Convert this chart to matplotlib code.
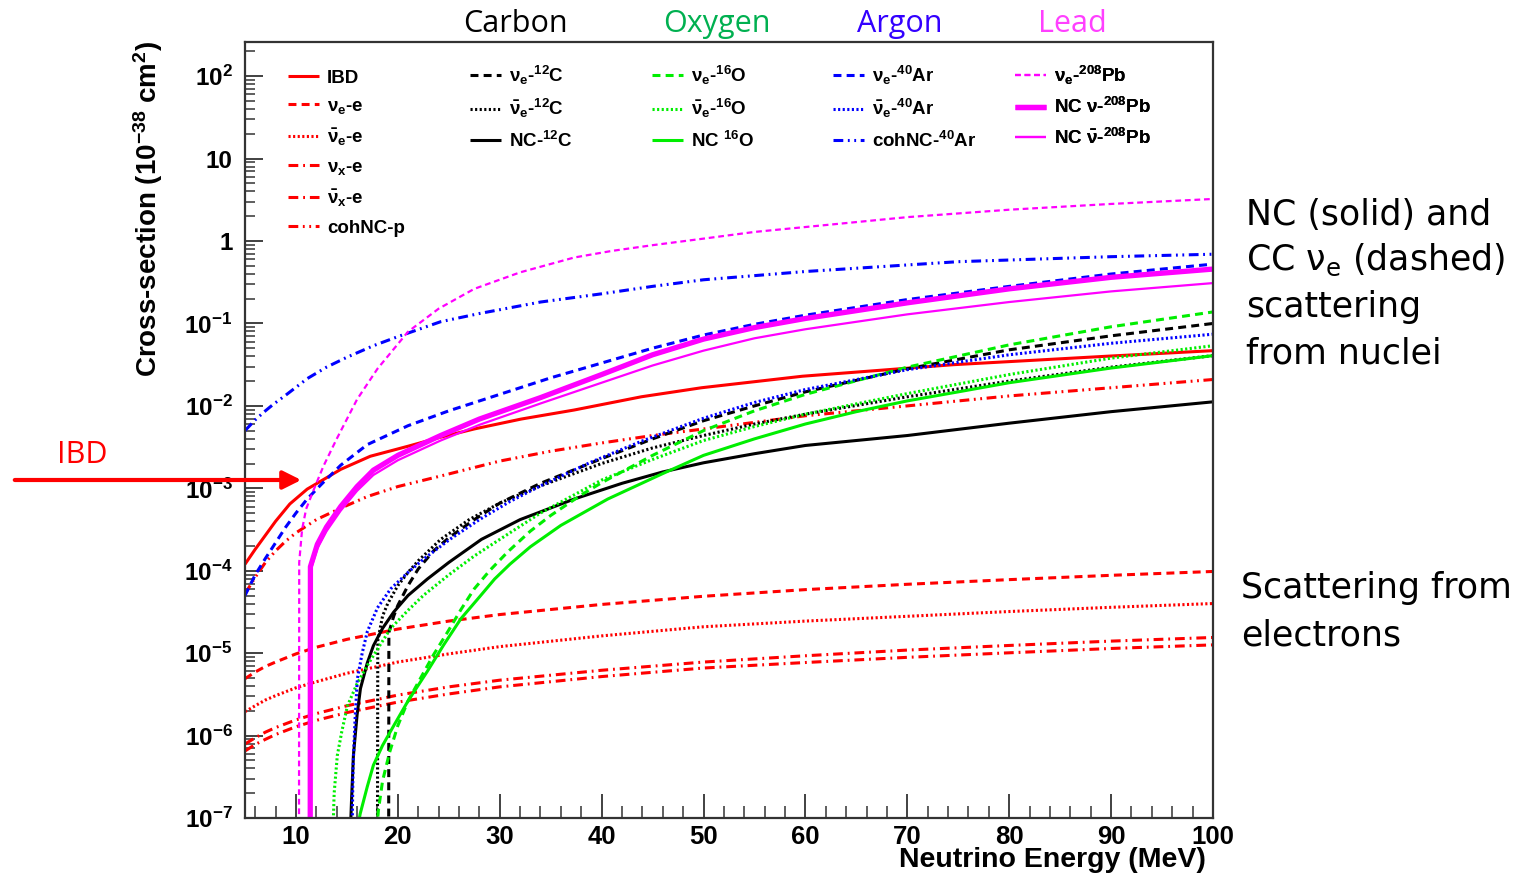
import numpy as np
import matplotlib
matplotlib.use('Agg')
import matplotlib.pyplot as plt
from matplotlib.patches import FancyArrowPatch
from matplotlib.ticker import FixedLocator, FixedFormatter, MultipleLocator, NullFormatter, LogLocator

plt.rcParams['mathtext.fontset'] = 'custom'
plt.rcParams['mathtext.rm'] = 'Liberation Sans:bold'
plt.rcParams['mathtext.it'] = 'Liberation Sans:bold'
plt.rcParams['mathtext.bf'] = 'Liberation Sans:bold'
plt.rcParams['mathtext.sf'] = 'Liberation Sans:bold'
plt.rcParams['mathtext.default'] = 'regular'

# ---------------- data (cross-section in 1e-38 cm^2 vs neutrino energy in MeV) -------------
ibd_E = [5, 6, 7, 8, 9.4, 11.1, 12.9, 14.4, 17.3, 21, 24.2, 27.5, 32.1, 37.3, 43.9, 49.8,
         59.7, 74.5, 89.2, 100]
ibd_s = [1.20e-4, 1.82e-4, 2.69e-4, 3.98e-4, 6.46e-4, 9.77e-4, 1.32e-3, 1.70e-3, 2.45e-3,
         3.24e-3, 4.17e-3, 5.25e-3, 6.92e-3, 8.91e-3, 1.29e-2, 1.66e-2, 2.29e-2, 3.16e-2,
         3.98e-2, 4.68e-2]

e_E = [5, 6, 7, 8, 10, 12, 15, 20, 25, 30, 40, 50, 60, 70, 80, 90, 100]
nue_e_s = [4.9e-6, 5.9e-6, 6.9e-6, 7.8e-6, 9.8e-6, 1.18e-5, 1.47e-5, 1.96e-5, 2.45e-5,
           2.94e-5, 3.9e-5, 4.9e-5, 5.9e-5, 6.85e-5, 7.8e-5, 8.8e-5, 9.8e-5]
nuebar_e_s = [1.95e-6, 2.3e-6, 2.7e-6, 3.05e-6, 3.8e-6, 4.5e-6, 5.7e-6, 7.8e-6, 9.8e-6,
              1.2e-5, 1.62e-5, 2.09e-5, 2.45e-5, 2.8e-5, 3.2e-5, 3.6e-5, 4.0e-5]
numux_e_s = [7.9e-7, 9.4e-7, 1.1e-6, 1.25e-6, 1.55e-6, 1.85e-6, 2.3e-6, 3.1e-6, 3.9e-6,
             4.7e-6, 6.2e-6, 7.8e-6, 9.3e-6, 1.09e-5, 1.24e-5, 1.4e-5, 1.55e-5]
numuxbar_e_s = [6.5e-7, 7.8e-7, 9.0e-7, 1.03e-6, 1.28e-6, 1.53e-6, 1.9e-6, 2.55e-6, 3.2e-6,
                3.9e-6, 5.2e-6, 6.6e-6, 7.7e-6, 8.9e-6, 1.01e-5, 1.14e-5, 1.26e-5]

cohp_E = [5, 6, 7, 8, 9, 10, 12, 14.4, 17, 20, 24.2, 30, 35, 40, 45, 50, 55, 60, 70, 80, 90, 100]
cohp_s = [5.25e-5, 8.32e-5, 1.26e-4, 1.74e-4, 2.29e-4, 2.88e-4, 4.17e-4, 5.75e-4, 7.94e-4,
          1.05e-3, 1.41e-3, 2.14e-3, 2.82e-3, 3.55e-3, 4.37e-3, 5.25e-3, 6.31e-3, 7.59e-3,
          1.0e-2, 1.32e-2, 1.66e-2, 2.09e-2]

# Carbon
nue_C_E = [19.1, 19.12, 19.6, 20, 21, 22, 23.5, 25, 27.5, 30, 34, 40, 45, 50, 55, 60, 70, 80,
           90, 100]
nue_C_s = [5.0e-8, 1.78e-5, 2.82e-5, 3.80e-5, 6.61e-5, 1.05e-4, 1.74e-4, 2.51e-4, 4.17e-4,
           6.61e-4, 1.15e-3, 2.29e-3, 3.98e-3, 6.61e-3, 1.0e-2, 1.48e-2, 2.82e-2, 4.79e-2,
           7.08e-2, 1.0e-1]
nuebar_C_E = [18.0, 18.03, 18.5, 19, 20, 21, 22, 24.2, 27, 30, 34, 40, 45, 50, 55, 60, 70, 80,
              90, 100]
nuebar_C_s = [5.0e-8, 1.41e-5, 2.82e-5, 3.98e-5, 6.61e-5, 9.55e-5, 1.32e-4, 2.40e-4, 4.17e-4,
              6.61e-4, 1.07e-3, 2.0e-3, 3.09e-3, 4.37e-3, 6.03e-3, 7.94e-3, 1.29e-2, 2.0e-2,
              2.95e-2, 4.07e-2]
nc_C_E = [15.3, 15.45, 15.64, 16.0, 16.33, 17, 17.6, 18.5, 19.6, 21, 22.9, 25, 28.2, 32, 37.3,
          42, 46, 50, 55, 60, 70, 80, 90, 100]
nc_C_s = [5.0e-8, 1.58e-7, 5.75e-7, 1.78e-6, 3.72e-6, 7.59e-6, 1.23e-5, 2.0e-5, 3.16e-5,
          5.01e-5, 7.94e-5, 1.26e-4, 2.40e-4, 4.17e-4, 7.41e-4, 1.15e-3, 1.58e-3, 2.04e-3,
          2.63e-3, 3.31e-3, 4.37e-3, 6.17e-3, 8.51e-3, 1.12e-2]

# Oxygen
nue_O_E = [17.8, 18.1, 18.5, 19.2, 20, 21, 22.2, 23.5, 24.9, 26.2, 27.5, 29, 30.8, 33, 35, 38,
           40, 45, 50, 55, 60, 70, 80, 90, 100]
nue_O_s = [5.0e-8, 1.26e-7, 2.82e-7, 6.31e-7, 1.32e-6, 2.63e-6, 4.90e-6, 9.55e-6, 1.82e-5,
           3.39e-5, 6.03e-5, 1.0e-4, 1.70e-4, 3.02e-4, 4.68e-4, 8.32e-4, 1.17e-3, 2.51e-3,
           5.01e-3, 8.71e-3, 1.38e-2, 2.95e-2, 5.50e-2, 9.12e-2, 1.38e-1]
nuebar_O_E = [13.6, 13.75, 14.06, 14.5, 15.05, 16, 17, 18, 19.3, 21, 22.5, 25, 27.5, 30, 34, 40,
              45, 50, 55, 60, 70, 80, 90, 100]
nuebar_O_s = [5.0e-8, 2.0e-7, 5.75e-7, 1.12e-6, 2.29e-6, 4.27e-6, 7.08e-6, 1.12e-5, 2.0e-5,
              3.31e-5, 5.01e-5, 8.91e-5, 1.51e-4, 2.40e-4, 5.01e-4, 1.26e-3, 2.24e-3, 3.80e-3,
              5.62e-3, 7.94e-3, 1.41e-2, 2.40e-2, 3.80e-2, 5.37e-2]
nc_O_E = [15.8, 16.3, 17, 17.6, 18.5, 19.6, 21, 22.9, 24.5, 26.2, 28, 29.5, 31, 33, 36, 40.6,
          46, 50, 55, 60, 65, 70, 75, 80, 90, 100]
nc_O_s = [5.0e-8, 1.12e-7, 2.40e-7, 4.37e-7, 7.59e-7, 1.32e-6, 2.63e-6, 6.03e-6, 1.26e-5,
          2.63e-5, 4.79e-5, 7.94e-5, 1.20e-4, 1.95e-4, 3.55e-4, 7.41e-4, 1.51e-3, 2.51e-3,
          3.98e-3, 6.03e-3, 8.51e-3, 1.15e-2, 1.48e-2, 1.91e-2, 2.88e-2, 4.07e-2]

# Argon
nue_Ar_E = [5, 6, 7, 7.8, 9, 10, 11.1, 12.5, 14.4, 17, 21, 25, 30, 35, 40, 45, 50, 55, 60, 70,
            80, 90, 100]
nue_Ar_s = [5.01e-5, 8.91e-5, 1.41e-4, 2.0e-4, 3.39e-4, 5.01e-4, 7.41e-4, 1.12e-3, 1.91e-3,
            3.39e-3, 5.75e-3, 8.71e-3, 1.38e-2, 2.19e-2, 3.31e-2, 5.01e-2, 7.24e-2, 9.77e-2,
            1.26e-1, 1.95e-1, 2.82e-1, 3.98e-1, 5.25e-1]
nuebar_Ar_E = [15.5, 15.6, 15.8, 16.03, 16.5, 17, 18, 19.3, 21, 22.6, 25.2, 28, 31, 34, 39,
               43.9, 50, 55, 60, 70, 80, 90, 100]
nuebar_Ar_s = [5.0e-8, 3.98e-7, 1.58e-6, 4.90e-6, 1.0e-5, 1.82e-5, 3.55e-5, 6.03e-5, 9.55e-5,
               1.41e-4, 2.45e-4, 4.17e-4, 6.92e-4, 1.07e-3, 2.09e-3, 3.72e-3, 7.08e-3, 1.10e-2,
               1.58e-2, 2.75e-2, 4.17e-2, 5.75e-2, 7.41e-2]
coh_Ar_E = [5, 6, 7, 7.8, 9, 11.1, 13, 15, 17.6, 20, 24.2, 28, 34, 40, 45, 50, 60, 75, 90, 100]
coh_Ar_s = [5.01e-3, 6.76e-3, 8.71e-3, 1.05e-2, 1.35e-2, 2.14e-2, 2.95e-2, 3.89e-2, 5.37e-2,
            6.92e-2, 1.05e-1, 1.32e-1, 1.82e-1, 2.29e-1, 2.82e-1, 3.39e-1, 4.27e-1, 5.62e-1,
            6.46e-1, 6.92e-1]

# Lead
nue_Pb_E = [10.3, 10.32, 10.6, 11, 11.8, 12.7, 14, 16, 18, 21, 24, 27.5, 32, 37.3, 41, 45, 50,
            55, 60, 70, 80, 90, 100]
nue_Pb_s = [5.0e-8, 1.26e-4, 3.16e-4, 5.62e-4, 1.0e-3, 1.86e-3, 3.98e-3, 1.20e-2, 2.82e-2,
            7.94e-2, 1.51e-1, 2.63e-1, 4.17e-1, 6.31e-1, 7.59e-1, 8.91e-1, 1.07, 1.29, 1.48,
            1.95, 2.40, 2.82, 3.24]
ncnu_Pb_E = [11.4, 11.42, 12.1, 13, 14.4, 16, 17.6, 20, 24.2, 28, 34, 40, 45, 50, 55, 60, 70,
             80, 90, 100]
ncnu_Pb_s = [5.0e-8, 1.12e-4, 2.09e-4, 3.39e-4, 6.03e-4, 1.05e-3, 1.66e-3, 2.51e-3, 4.37e-3,
             6.92e-3, 1.26e-2, 2.40e-2, 4.17e-2, 6.46e-2, 8.91e-2, 1.15e-1, 1.78e-1, 2.63e-1,
             3.63e-1, 4.57e-1]
ncnubar_Pb_E = [11.4, 11.42, 12.1, 13, 14.4, 16, 17.6, 20, 24.2, 28, 34, 40, 45, 50, 55, 60, 70,
                80, 90, 100]
ncnubar_Pb_s = [5.0e-8, 1.0e-4, 1.86e-4, 3.02e-4, 5.37e-4, 9.33e-4, 1.45e-3, 2.19e-3, 3.80e-3,
                5.89e-3, 1.07e-2, 1.91e-2, 3.09e-2, 4.68e-2, 6.61e-2, 8.51e-2, 1.29e-1, 1.82e-1,
                2.45e-1, 3.09e-1]

ytick_vals = [1e-7, 1e-6, 1e-5, 1e-4, 1e-3, 1e-2, 1e-1, 1, 10, 100]
ytick_labels = ['10$^{-7}$', '10$^{-6}$', '10$^{-5}$', '10$^{-4}$', '10$^{-3}$',
                '10$^{-2}$', '10$^{-1}$', '1', '10', '10$^{2}$']
xtick_vals = [10, 20, 30, 40, 50, 60, 70, 80, 90, 100]

element_names = ['Carbon', 'Oxygen', 'Argon', 'Lead']
element_colors = ['#000000', '#00B050', '#3300FF', '#FF40FF']

# ---------------- styles ----------------
RED, BLK, GRN, BLU, MAG = '#FF0000', '#000000', '#00EE00', '#0000FF', '#FF00FF'
DASH = (0, (2.6, 1.7))
DOT = (0, (0.7, 0.8))
DDOT = (0, (3.2, 1.6, 0.6, 1.6))
DDDOT = (0, (3.2, 1.5, 0.6, 1.5, 0.6, 1.5))
LW = 2.2

fig = plt.figure(figsize=(15.35, 8.76), dpi=100)
ax = fig.add_axes([245/1535, 1-818/876, (1213-245)/1535, (818-42)/876])
ax.set_yscale('log')
ax.set_xlim(5, 100)
ax.set_ylim(1e-7, 2.6e2)

curves = [
    (ibd_E, ibd_s, RED, '-', LW, 'IBD'),
    (e_E, nue_e_s, RED, DASH, LW, r'$\nu_{e}$-e'),
    (e_E, nuebar_e_s, RED, DOT, LW, r'$\bar{\nu}_{e}$-e'),
    (e_E, numux_e_s, RED, DDOT, LW, r'$\nu_{x}$-e'),
    (e_E, numuxbar_e_s, RED, DDOT, LW, r'$\bar{\nu}_{x}$-e'),
    (cohp_E, cohp_s, RED, DDDOT, LW, 'cohNC-p'),
    (nue_C_E, nue_C_s, BLK, DASH, LW, r'$\nu_{e}$-$^{12}$C'),
    (nuebar_C_E, nuebar_C_s, BLK, DOT, LW, r'$\bar{\nu}_{e}$-$^{12}$C'),
    (nc_C_E, nc_C_s, BLK, '-', LW, r'NC-$^{12}$C'),
    (nue_O_E, nue_O_s, GRN, DASH, LW, r'$\nu_{e}$-$^{16}$O'),
    (nuebar_O_E, nuebar_O_s, GRN, DOT, LW, r'$\bar{\nu}_{e}$-$^{16}$O'),
    (nc_O_E, nc_O_s, GRN, '-', LW, r'NC $^{16}$O'),
    (nue_Ar_E, nue_Ar_s, BLU, DASH, LW, r'$\nu_{e}$-$^{40}$Ar'),
    (nuebar_Ar_E, nuebar_Ar_s, BLU, DOT, LW, r'$\bar{\nu}_{e}$-$^{40}$Ar'),
    (coh_Ar_E, coh_Ar_s, BLU, DDDOT, LW, r'cohNC-$^{40}$Ar'),
    (nue_Pb_E, nue_Pb_s, MAG, DASH, 1.6, r'$\nu_{e}$-$^{208}$Pb'),
    (ncnu_Pb_E, ncnu_Pb_s, MAG, '-', 3.8, r'NC $\nu$-$^{208}$Pb'),
    (ncnubar_Pb_E, ncnubar_Pb_s, MAG, '-', 1.6, r'NC $\bar{\nu}$-$^{208}$Pb'),
]

handles = []
for E, s, c, ls, lw, lab in curves:
    h, = ax.plot(E, s, color=c, ls=ls, lw=lw, label=lab, solid_capstyle='butt',
                 dash_capstyle='butt', solid_joinstyle='round')
    handles.append(h)

# legends in 5 columns
groups = [(0, 6, 0.044, 0.964, 0.58), (6, 9, 0.232, 0.972, 0.56), (9, 12, 0.42, 0.972, 0.56),
          (12, 15, 0.607, 0.972, 0.56), (15, 18, 0.795, 0.972, 0.56)]
legfont = {'family': 'Liberation Sans', 'weight': 'bold', 'size': 13.5}
for i0, i1, lx, ly, sp in groups:
    leg = ax.legend(handles=handles[i0:i1], loc='upper left', bbox_to_anchor=(lx, ly),
                    frameon=False, prop=legfont, handlelength=1.7, handletextpad=0.4,
                    labelspacing=sp, borderpad=0, borderaxespad=0)
    ax.add_artist(leg)

# axes styling (ROOT-like)
for sp_ in ax.spines.values():
    sp_.set_linewidth(1.6)
    sp_.set_color('#333333')
ax.yaxis.set_major_locator(FixedLocator(ytick_vals))
ax.yaxis.set_major_formatter(FixedFormatter(ytick_labels))
ax.yaxis.set_minor_locator(LogLocator(base=10, subs=np.arange(2, 10), numticks=30))
ax.yaxis.set_minor_formatter(NullFormatter())
ax.xaxis.set_major_locator(FixedLocator(xtick_vals))
ax.xaxis.set_major_formatter(FixedFormatter([str(v) for v in xtick_vals]))
ax.xaxis.set_minor_locator(MultipleLocator(2))
ax.tick_params(which='major', direction='in', length=17, width=1.3, color='#333333')
ax.tick_params(which='minor', direction='in', length=8.5, width=1.1, color='#333333')
ax.tick_params(axis='y', which='major', length=13, labelsize=17.5, pad=9)
ax.tick_params(axis='y', which='minor', length=7)
ax.tick_params(axis='x', which='major', labelsize=18.5, pad=5)
for t in ax.get_xticklabels() + ax.get_yticklabels():
    t.set_fontfamily('Liberation Sans')
    t.set_fontweight('bold')

ax.set_ylabel(r'Cross-section (10$^{-38}$ cm$^{2}$)', fontsize=20, fontweight='bold',
              family='Liberation Sans')
ax.yaxis.set_label_coords(-0.083, 0.785)
ax.set_xlabel('Neutrino Energy (MeV)', fontsize=20.5, fontweight='bold',
              family='Liberation Sans')
ax.xaxis.set_label_coords(0.993, -0.037)
ax.xaxis.label.set_horizontalalignment('right')
ax.xaxis.label.set_verticalalignment('top')

# element titles above the axes
elem_x = [515, 717, 900, 1072]
for name, col, xp in zip(element_names, element_colors, elem_x):
    fig.text(xp/1535, 1-24/876, name, color=col, fontsize=22, family='Open Sans',
             ha='center', va='center')

# right-hand annotations
rfont = dict(fontsize=25, family='DejaVu Sans', color='black', ha='left', va='center')
for txt, yp in [('NC (solid) and', 215), (r'CC ν$_{\mathregular{e}}$ (dashed)', 260),
                ('scattering', 307), ('from nuclei', 353)]:
    fig.text(1246/1535, 1-yp/876, txt, **rfont)
for txt, yp in [('Scattering from', 588), ('electrons', 635)]:
    fig.text(1241/1535, 1-yp/876, txt, **rfont)

# IBD arrow
fig.text(82/1535, 1-455/876, 'IBD', color='red', fontsize=22, family='Open Sans',
         ha='center', va='center')
arr = FancyArrowPatch((12/1535, 1-480/876), (304/1535, 1-480/876), transform=fig.transFigure,
                      arrowstyle='-|>,head_length=11,head_width=5.5', color='red', lw=3.0,
                      mutation_scale=1)
fig.add_artist(arr)

fig.savefig('out.png', dpi=100)
